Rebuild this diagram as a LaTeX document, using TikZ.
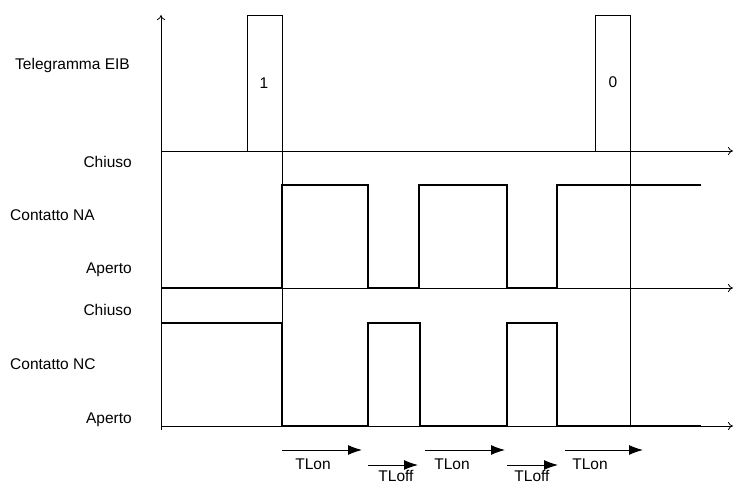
\documentclass[tikz,border=0pt]{standalone}
\usepackage{fontspec}
\setmainfont{Liberation Sans}
\usetikzlibrary{arrows.meta}
\begin{document}
\begin{tikzpicture}[x=1pt,y=-1pt,
  thinline/.style={line width=0.8pt,black},
  axisarrow/.style={thinline,-{To[length=5pt,width=8pt]}},
  signal/.style={line width=2.2pt,black,line join=miter},
  timearrow/.style={line width=1pt,-{Latex[length=14pt,width=10pt]}},
  lbl/.style={font=\fontsize{15.5}{17}\selectfont,inner sep=0pt},
  rlbl/.style={lbl,anchor=east},
  llbl/.style={lbl,anchor=west}]
\useasboundingbox (0,0) rectangle (734,486);
% axes
\coordinate (o) at (161,430);
\coordinate (ytop) at (161,15);
\draw[axisarrow] (o) -- (ytop);
\coordinate (a1l) at (161,151); \coordinate (a1r) at (733,151);
\coordinate (a2l) at (161,288); \coordinate (a2r) at (733,288);
\coordinate (a3l) at (161,426); \coordinate (a3r) at (733,426);
\draw[axisarrow] (a1l) -- (a1r);
\draw[axisarrow] (a2l) -- (a2r);
\draw[axisarrow] (a3l) -- (a3r);
% telegram pulses
\draw[thinline] (247,151) -- (247,15) -- (282,15) -- (282,151);
\draw[thinline] (595,151) -- (595,15) -- (630,15) -- (630,151);
\node[lbl] (one) at (264,83) {1};
\node[lbl] (zero) at (613,82) {0};
% vertical marker lines
\draw[thinline] (282,151) -- (282,426);
\draw[thinline] (630,151) -- (630,426);
% NA signal
\draw[signal] (161,288) -- (282,288) -- (282,185) -- (368,185) -- (368,288)
  -- (419,288) -- (419,185) -- (507,185) -- (507,288) -- (557,288)
  -- (557,185) -- (701,185);
% NC signal
\draw[signal] (161,323) -- (282,323) -- (282,426) -- (368,426) -- (368,323)
  -- (420,323) -- (420,426) -- (507,426) -- (507,323) -- (557,323)
  -- (557,426) -- (701,426);
% labels
\node[rlbl] (tel) at (130,65) {Telegramma EIB};
\node[rlbl] (ch1) at (132,162) {Chiuso};
\node[llbl] (na) at (10,215) {Contatto NA};
\node[rlbl] (ap1) at (132,270) {Aperto};
\node[rlbl] (ch2) at (132,310) {Chiuso};
\node[llbl] (nc) at (10,364) {Contatto NC};
\node[rlbl] (ap2) at (132,420) {Aperto};
% time arrows
\coordinate (on1s) at (282,450); \coordinate (on1e) at (362,450);
\coordinate (of1s) at (368,465); \coordinate (of1e) at (418,465);
\coordinate (on2s) at (425,450); \coordinate (on2e) at (505,450);
\coordinate (of2s) at (507,465); \coordinate (of2e) at (558,465);
\coordinate (on3s) at (565,450); \coordinate (on3e) at (643,450);
\draw[timearrow] (on1s) -- (on1e);
\draw[timearrow] (of1s) -- (of1e);
\draw[timearrow] (on2s) -- (on2e);
\draw[timearrow] (of2s) -- (of2e);
\draw[timearrow] (on3s) -- (on3e);
\node[lbl] (ton1) at (313,464) {TLon};
\node[lbl] (ton2) at (452,464) {TLon};
\node[lbl] (ton3) at (590,464) {TLon};
\node[lbl,anchor=north] (toff1) at (396,470) {TLoff};
\node[lbl,anchor=north] (toff2) at (532,470) {TLoff};
\end{tikzpicture}
\end{document}
